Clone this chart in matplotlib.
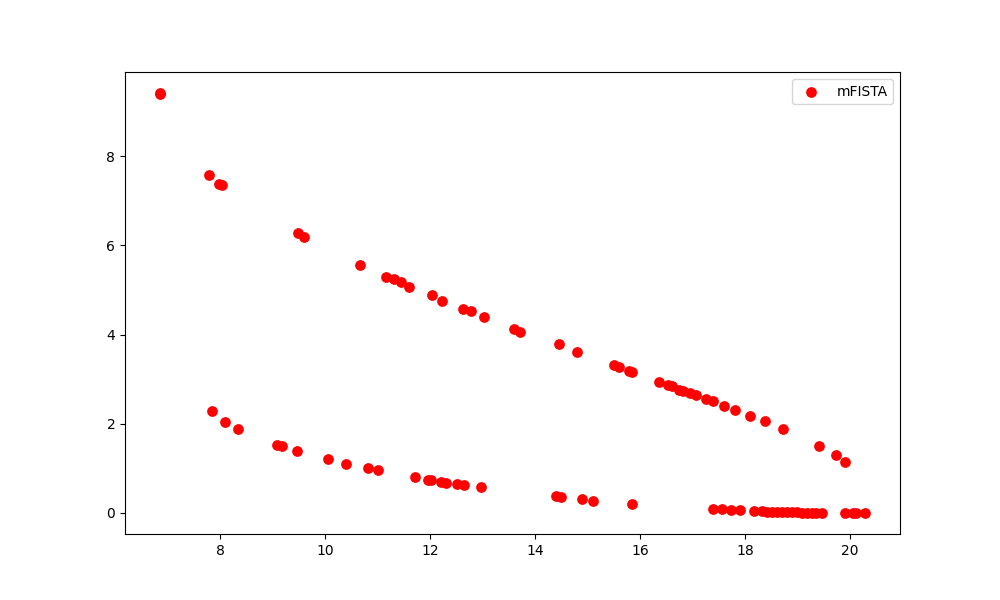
import numpy as np
import matplotlib
matplotlib.use('Agg')
import matplotlib.pyplot as plt

# upper branch
x_top = [6.86, 7.79, 7.98, 8.04, 9.48, 9.60, 10.66, 11.16, 11.31, 11.44, 11.59,
         12.03, 12.22, 12.62, 12.77, 13.02, 13.59, 13.72, 14.46, 14.79, 15.51,
         15.59, 15.79, 15.85, 16.37, 16.54, 16.61, 16.75, 16.82, 16.96, 17.07,
         17.26, 17.39, 17.60, 17.81, 18.10, 18.38, 18.72, 19.41, 19.73, 19.90]
y_top = [9.42, 7.57, 7.39, 7.35, 6.27, 6.18, 5.57, 5.30, 5.24, 5.17, 5.08,
         4.88, 4.76, 4.58, 4.52, 4.40, 4.13, 4.07, 3.78, 3.62, 3.33,
         3.28, 3.19, 3.17, 2.94, 2.88, 2.85, 2.76, 2.74, 2.70, 2.65,
         2.56, 2.52, 2.40, 2.31, 2.18, 2.07, 1.89, 1.51, 1.30, 1.15]

# lower branch
x_low = [6.86, 7.85, 8.10, 8.35, 9.08, 9.18, 9.46, 10.05, 10.40, 10.82, 11.01,
         11.71, 11.96, 12.01, 12.20, 12.30, 12.52, 12.64, 12.97,
         14.39, 14.50, 14.89, 15.11, 15.85,
         17.39, 17.56, 17.74, 17.90, 18.17, 18.33, 18.42, 18.51, 18.61, 18.70,
         18.80, 18.89, 18.99, 19.09, 19.18, 19.27, 19.35, 19.46, 19.90, 20.05,
         20.12, 20.28]
y_low = [9.40, 2.28, 2.05, 1.88, 1.52, 1.50, 1.38, 1.21, 1.11, 1.00, 0.96,
         0.80, 0.75, 0.73, 0.70, 0.68, 0.64, 0.62, 0.58,
         0.38, 0.36, 0.31, 0.28, 0.20,
         0.08, 0.08, 0.06, 0.06, 0.04, 0.04, 0.03, 0.03, 0.02, 0.02,
         0.02, 0.02, 0.02, 0.01, 0.01, 0.01, 0.00, 0.00, 0.00, 0.00,
         0.00, 0.00]

x = x_top + x_low
y = y_top + y_low

plt.figure(figsize=(10, 6))
plt.scatter(x, y, c='red', s=45, label='mFISTA')
plt.legend()
plt.savefig('out.png')
